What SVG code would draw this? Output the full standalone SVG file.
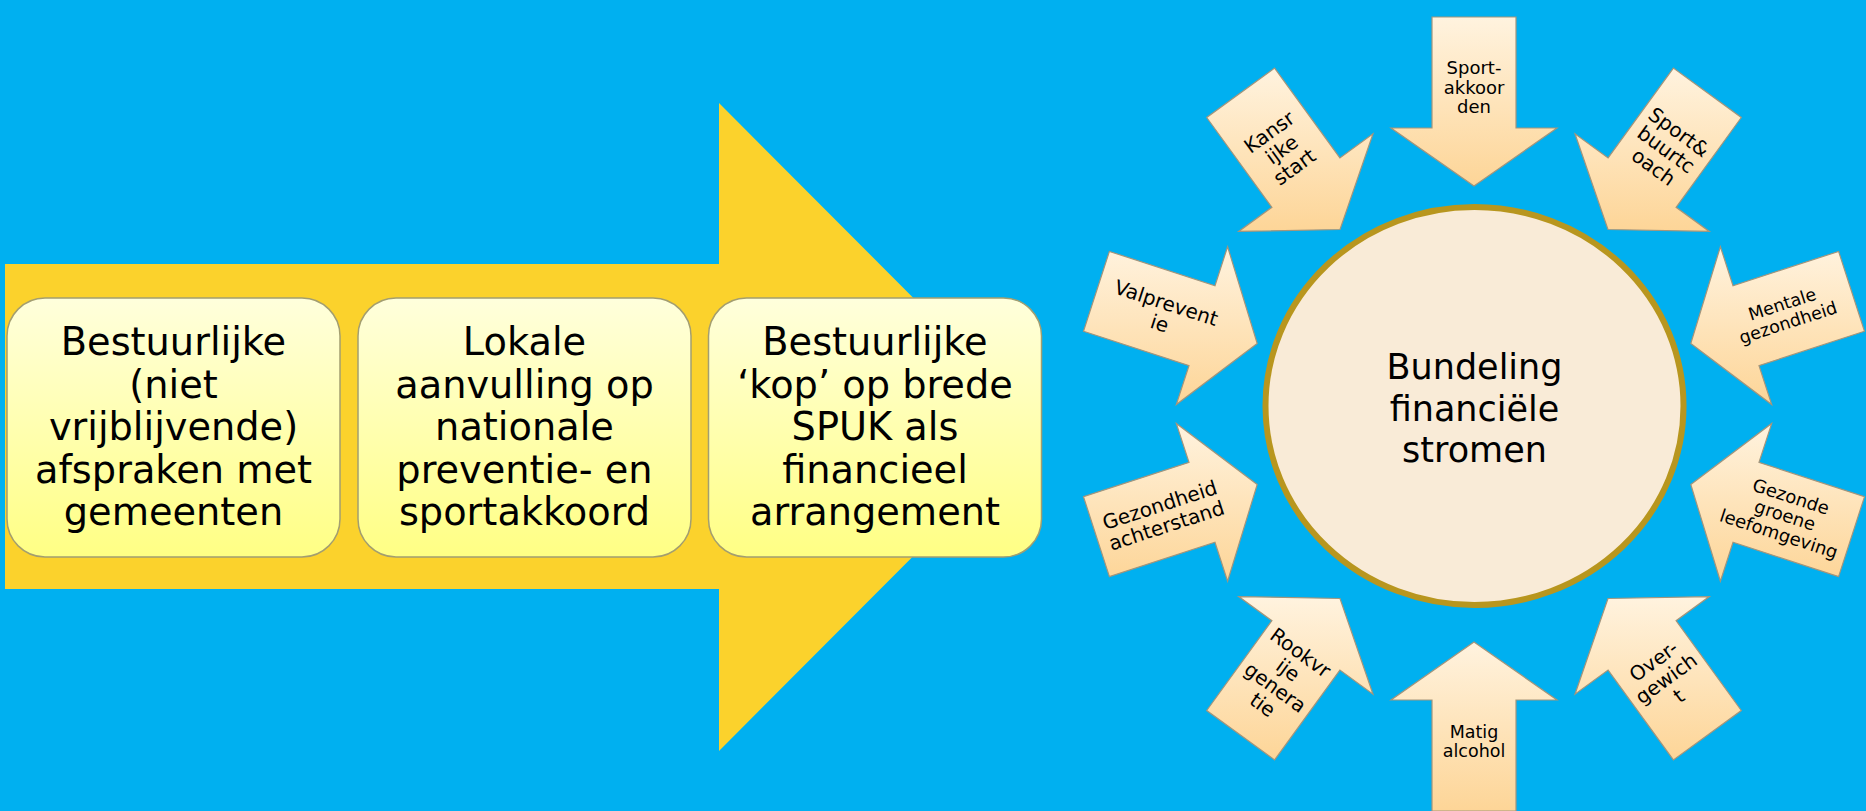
<svg xmlns="http://www.w3.org/2000/svg" width="1866" height="811" viewBox="0 0 1866 811">
  <defs>
    <linearGradient id="boxGrad" x1="0" y1="0" x2="0" y2="1">
      <stop offset="0" stop-color="#FFFFDC"/>
      <stop offset="1" stop-color="#FFFF84"/>
    </linearGradient>
    <linearGradient id="arrowGrad" x1="0" y1="0" x2="0" y2="1">
      <stop offset="0" stop-color="#FFF3DF"/>
      <stop offset="1" stop-color="#FDD597"/>
    </linearGradient>
    <style>
      .box { fill: url(#boxGrad); stroke: #A39E70; stroke-width: 1.5; }
      .big { font-family: "DejaVu Sans", Verdana, sans-serif; font-size: 38.3px; fill: #000; text-anchor: middle; }
      .hub { font-family: "DejaVu Sans", Verdana, sans-serif; font-size: 35px; fill: #000; text-anchor: middle; }
      .ra { fill: url(#arrowGrad); stroke: #A3957C; stroke-width: 1.2; stroke-linejoin: miter; }
      .lbl { font-family: "DejaVu Sans", Verdana, sans-serif; font-size: 18px; fill: #000; text-anchor: middle; }
      .lg { font-size: 20px; }
      .sm { font-size: 17.5px; }
    </style>
  </defs>

  <rect x="0" y="0" width="1866" height="811" fill="#00B0F0"/>

  <g id="main-arrow">
    <polygon points="5,264 719,264 719,103 1042,427 719,751 719,589 5,589" fill="#FBD22C"/>
  </g>

  <g id="box-1">
    <rect class="box" x="7" y="298" width="333" height="259" rx="38" ry="38"/>
    <text class="big"><tspan x="173.5" y="355">Bestuurlijke</tspan><tspan x="173.5" y="397.6">(niet</tspan><tspan x="173.5" y="440.2">vrijblijvende)</tspan><tspan x="173.5" y="482.8">afspraken met</tspan><tspan x="173.5" y="525.4">gemeenten</tspan></text>
  </g>

  <g id="box-2">
    <rect class="box" x="358" y="298" width="333" height="259" rx="38" ry="38"/>
    <text class="big"><tspan x="524.5" y="355">Lokale</tspan><tspan x="524.5" y="397.6">aanvulling op</tspan><tspan x="524.5" y="440.2">nationale</tspan><tspan x="524.5" y="482.8">preventie- en</tspan><tspan x="524.5" y="525.4">sportakkoord</tspan></text>
  </g>

  <g id="box-3">
    <rect class="box" x="708.5" y="298" width="333" height="259" rx="38" ry="38"/>
    <text class="big"><tspan x="875" y="355">Bestuurlijke</tspan><tspan x="875" y="397.6">‘kop’ op brede</tspan><tspan x="875" y="440.2">SPUK als</tspan><tspan x="875" y="482.8">financieel</tspan><tspan x="875" y="525.4">arrangement</tspan></text>
  </g>

  <g id="hub">
    <ellipse cx="1474.5" cy="406" rx="209" ry="199" fill="#F9EBD7" stroke="#B8961E" stroke-width="6"/>
    <text class="hub"><tspan x="1474.5" y="378.5">Bundeling</tspan><tspan x="1474.5" y="420.5">financiële</tspan><tspan x="1474.5" y="462.2">stromen</tspan></text>
  </g>

  <g id="connectors">
    <g id="arrow-sportakkoorden">
      <polygon class="ra" points="1516,17 1516,128 1557,128 1474,186 1391,128 1432,128 1432,17"/>
      <text class="lbl" transform="translate(1474,87)"><tspan x="0" y="-13">Sport-</tspan><tspan x="0" y="6.5">akkoor</tspan><tspan x="0" y="26">den</tspan></text>
    </g>
    <g id="arrow-sportbuurtcoach">
      <polygon class="ra" points="1741.3,117.5 1676.1,207.3 1709.3,231.4 1608.0,229.5 1575.0,133.8 1608.1,157.9 1673.4,68.1"/>
      <text class="lbl lg" transform="translate(1666.2,149.5) rotate(36)"><tspan x="0" y="-14.5">Sport&amp;</tspan><tspan x="0" y="7">buurtc</tspan><tspan x="0" y="28.5">oach</tspan></text>
    </g>
    <g id="arrow-mentale">
      <polygon class="ra" points="1864.5,331.3 1759.0,365.6 1771.7,404.6 1690.8,343.5 1720.4,246.7 1733.0,285.7 1838.6,251.4"/>
      <text class="lbl sm" transform="translate(1785,313) rotate(-18)"><tspan x="0" y="-3.25">Mentale</tspan><tspan x="0" y="16">gezondheid</tspan></text>
    </g>
    <g id="arrow-gezonde">
      <polygon class="ra" points="1838.6,576.6 1733.0,542.3 1720.4,581.3 1690.8,484.5 1771.7,423.4 1759.0,462.4 1864.5,496.7"/>
      <text class="lbl" transform="translate(1785,515) rotate(18)"><tspan x="0" y="-13">Gezonde</tspan><tspan x="0" y="6.5">groene</tspan><tspan x="0" y="26">leefomgeving</tspan></text>
    </g>
    <g id="arrow-overgewicht">
      <polygon class="ra" points="1741.3,710.5 1676.1,620.7 1709.3,596.6 1608.0,598.5 1575.0,694.2 1608.1,670.1 1673.4,759.9"/>
      <text class="lbl lg" transform="translate(1666.2,678.5) rotate(-36)"><tspan x="0" y="-14.5">Over-</tspan><tspan x="0" y="7">gewich</tspan><tspan x="0" y="28.5">t</tspan></text>
    </g>
    <g id="arrow-matig">
      <polygon class="ra" points="1432,811 1432,700 1391,700 1474,642 1557,700 1516,700 1516,811"/>
      <text class="lbl sm" transform="translate(1474,741)"><tspan x="0" y="-3.25">Matig</tspan><tspan x="0" y="16">alcohol</tspan></text>
    </g>
    <g id="arrow-rookvrije">
      <polygon class="ra" points="1206.7,710.5 1271.9,620.7 1238.7,596.6 1340.0,598.5 1373.0,694.2 1339.9,670.1 1274.6,759.9"/>
      <text class="lbl lg" transform="translate(1281.8,678.5) rotate(36)"><tspan x="0" y="-25">Rookvr</tspan><tspan x="0" y="-3.5">ije</tspan><tspan x="0" y="18">genera</tspan><tspan x="0" y="39.5">tie</tspan></text>
    </g>
    <g id="arrow-gezondheid">
      <polygon class="ra" points="1109.4,576.6 1215.0,542.3 1227.6,581.3 1257.2,484.5 1176.3,423.4 1189.0,462.4 1083.5,496.7"/>
      <text class="lbl lg" transform="translate(1163,515) rotate(-18)"><tspan x="0" y="-3.5">Gezondheid</tspan><tspan x="0" y="18">achterstand</tspan></text>
    </g>
    <g id="arrow-valpreventie">
      <polygon class="ra" points="1083.5,331.3 1189.0,365.6 1176.3,404.6 1257.2,343.5 1227.6,246.7 1215.0,285.7 1109.4,251.4"/>
      <text class="lbl lg" transform="translate(1163,313) rotate(18)"><tspan x="0" y="-3.5">Valprevent</tspan><tspan x="0" y="18">ie</tspan></text>
    </g>
    <g id="arrow-kansrijke">
      <polygon class="ra" points="1206.7,117.5 1271.9,207.3 1238.7,231.4 1340.0,229.5 1373.0,133.8 1339.9,157.9 1274.6,68.1"/>
      <text class="lbl lg" transform="translate(1281.8,149.5) rotate(-36)"><tspan x="0" y="-14.5">Kansr</tspan><tspan x="0" y="7">ijke</tspan><tspan x="0" y="28.5">start</tspan></text>
    </g>
  </g>
</svg>
